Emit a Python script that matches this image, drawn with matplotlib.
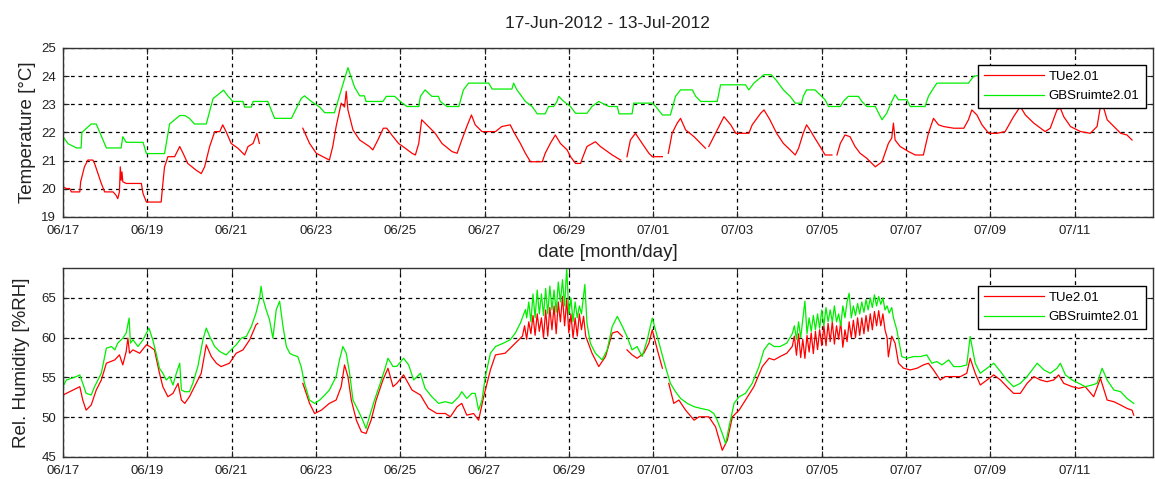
import numpy as np
import matplotlib
matplotlib.use('Agg')
import matplotlib.pyplot as plt
import matplotlib.dates as mdates
from datetime import datetime

nan = np.nan
start = datetime(2012, 6, 17)

# times in days after 17-Jun-2012 00:00, nan = no data
temp_t_tue = [0, 0.08, 0.16, 0.20, 0.40, 0.42, 0.51, 0.59, 0.71, 0.75, 0.83, 0.91, 0.99, 1.19, 1.26, 1.30,
              1.34, 1.36, 1.38, 1.40, 1.42, 1.50, 1.86, 1.90, 1.98, 2.33, 2.37, 2.41, 2.49, 2.65, 2.77, 2.85,
              2.96, 3.16, 3.28, 3.36, 3.48, 3.60, 3.72, 3.79, 3.87, 3.99, 4.15, 4.31, 4.39, 4.51, 4.60, 4.66,
              4.67, 5.69, 5.85, 6.01, 6.32, 6.40, 6.48, 6.60, 6.68, 6.72, 6.76, 6.88, 7.04, 7.27, 7.35, 7.47,
              7.60, 7.68, 7.80, 7.96, 8.12, 8.28, 8.36, 8.44, 8.51, 8.63, 8.83, 8.99, 9.23, 9.35, 9.46, 9.58,
              9.69, 9.78, 9.94, 10.26, 10.41, 10.61, 10.69, 10.85, 10.97, 11.09, 11.37, 11.44, 11.56, 11.68,
              11.80, 11.96, 12.04, 12.16, 12.28, 12.32, 12.43, 12.63, 12.75, 13.03, 13.23, 13.30, 13.38, 13.46,
              13.58, 13.74, 13.90, 13.98, 14.22, 14.30, 14.36, 14.45, 14.57, 14.65, 14.77, 14.97, 15.13, 15.24,
              15.28, 15.32, 15.48, 15.68, 15.84, 15.96, 16.27, 16.35, 16.55, 16.63, 16.77, 16.93, 17.09, 17.25,
              17.37, 17.45, 17.56, 17.64, 17.72, 17.84, 17.96, 18.08, 18.24, 18.30, 18.36, 18.44, 18.55, 18.67,
              18.79, 18.91, 19.07, 19.27, 19.43, 19.58, 19.66, 19.70, 19.74, 19.86, 20.06, 20.22, 20.41, 20.53,
              20.65, 20.77, 20.89, 21.13, 21.37, 21.48, 21.56, 21.68, 21.80, 21.96, 22.16, 22.35, 22.55, 22.71,
              22.83, 23.03, 23.30, 23.42, 23.58, 23.66, 23.74, 23.90, 24.14, 24.37, 24.53, 24.61, 24.69, 24.77,
              24.93, 25.09, 25.24, 25.36]
temp_tue = [20.07, 20.01, 20.01, 19.89, 19.89, 20.25, 20.78, 21.02, 21.02, 20.90, 20.54, 20.19, 19.89, 19.89, 19.77, 19.65,
            19.89, 20.78, 20.30, 20.60, 20.25, 20.19, 20.19, 19.83, 19.53, 19.53, 20.19, 20.78, 21.14, 21.14, 21.50, 21.26,
            20.90, 20.66, 20.54, 20.78, 21.50, 22.03, 22.03, 22.27, 22.03, 21.61, 21.44, 21.20, 21.50, 21.61, 21.97, 21.61,
            nan, 22.15, 21.61, 21.26, 21.02, 21.50, 22.21, 23.04, 22.90, 23.46, 22.80, 22.09, 21.73, 21.50, 21.38, 21.73,
            22.15, 22.15, 21.91, 21.61, 21.44, 21.26, 21.20, 21.61, 22.45, 22.27, 21.97, 21.61, 21.32, 21.26, 21.73, 22.21,
            22.62, 22.27, 22.03, 22.03, 22.21, 22.27, 22.03, 21.61, 21.26, 20.96, 20.96, 21.26, 21.61, 21.91,
            21.61, 21.38, 21.14, 20.90, 20.90, 21.08, 21.50, 21.67, 21.50, 21.20, 21.02, nan, 21.14, 21.73,
            21.97, 21.61, 21.26, 21.14, 21.14, nan, 21.26, 21.97, 22.33, 22.50, 22.09, 21.85, 21.61, 21.44,
            nan, 21.50, 21.97, 22.56, 22.27, 21.97, 21.97, 22.27, 22.68, 22.80, 22.45, 21.97, 21.61, 21.38,
            21.20, 21.44, 21.97, 22.27, 22.09, 21.79, 21.50, 21.20, 21.20, nan, 21.20, 21.61, 21.91, 21.85,
            21.50, 21.26, 21.08, 20.78, 20.96, 21.61, 21.80, 22.33, 21.73, 21.50, 21.32, 21.20, 21.20, 21.97,
            22.50, 22.27, 22.21, 22.15, 22.15, 22.45, 22.80, 22.62, 22.27, 21.97, 21.97, 22.03, 22.56, 22.92,
            22.62, 22.33, 22.03, 22.15, 22.80, 22.86, 22.56, 22.21, 22.03, 21.97, 22.21, 22.92, 22.86, 22.45,
            22.21, 21.97, 21.91, 21.73]

temp_t_gbs = [0, 0.12, 0.32, 0.43, 0.45, 0.67, 0.79, 1.03, 1.38, 1.42, 1.50, 1.90, 1.98, 2.41, 2.53, 2.77, 2.89,
              3.00, 3.12, 3.40, 3.56, 3.81, 3.91, 4.03, 4.27, 4.31, 4.47, 4.51, 4.86, 5.02, 5.42, 5.65, 5.73, 5.89,
              6.09, 6.21, 6.44, 6.76, 6.92, 7.04, 7.15, 7.19, 7.59, 7.67, 7.87, 8.00, 8.16, 8.44, 8.48, 8.59, 8.75,
              8.91, 8.95, 9.11, 9.39, 9.50, 9.62, 10.10, 10.18, 10.65, 10.69, 10.77, 10.97, 11.13, 11.25, 11.44,
              11.52, 11.64, 11.72, 11.76, 11.88, 12.04, 12.16, 12.43, 12.55, 12.71, 12.95, 13.15, 13.19, 13.50,
              13.54, 13.98, 14.06, 14.22, 14.41, 14.53, 14.65, 14.93, 15.01, 15.13, 15.52, 15.60, 16.19, 16.27,
              16.39, 16.63, 16.80, 16.91, 17.09, 17.25, 17.37, 17.52, 17.56, 17.64, 17.84, 18.00, 18.08, 18.16,
              18.44, 18.51, 18.63, 18.87, 18.95, 19.07, 19.27, 19.35, 19.43, 19.54, 19.66, 19.74, 19.82, 20.02,
              20.10, 20.45, 20.53, 20.65, 20.73, 21.48, 21.60, 22.0, 22.5, 23.0, 23.5, 24.0, 24.5, 25.36]
temp_gbs = [21.86, 21.60, 21.45, 21.45, 22.00, 22.30, 22.30, 21.45, 21.45, 21.85, 21.65, 21.65, 21.25, 21.25, 22.30, 22.60, 22.60,
            22.50, 22.30, 22.30, 23.20, 23.50, 23.30, 23.10, 23.10, 22.90, 22.90, 23.10, 23.10, 22.50, 22.50, 23.20, 23.30, 23.10,
            22.90, 22.70, 22.70, 24.30, 23.60, 23.30, 23.30, 23.10, 23.10, 23.28, 23.28, 23.10, 22.92, 22.92, 23.28, 23.51, 23.28,
            23.28, 23.10, 22.92, 22.92, 23.51, 23.75, 23.75, 23.54, 23.54, 23.75, 23.51, 23.10, 22.92, 22.66, 22.66,
            22.92, 22.92, 23.10, 23.28, 23.10, 22.92, 22.68, 22.68, 22.92, 23.10, 22.92, 22.92, 22.66, 22.66,
            23.04, 23.04, 22.92, 22.62, 22.62, 23.28, 23.51, 23.51, 23.28, 23.10, 23.10, 23.69, 23.69, 23.51,
            23.75, 24.05, 24.05, 23.87, 23.51, 23.28, 23.04, 23.04, 23.28, 23.51, 23.51, 23.28, 23.16, 22.92,
            22.92, 23.10, 23.28, 23.28, 23.10, 22.92, 22.92, 22.68, 22.45, 22.68, 23.10, 23.34, 23.16, 23.16,
            22.92, 22.92, 23.28, 23.57, 23.75, 23.75, 23.99, 24.10, 24.20, 24.00, 24.20, 24.00, 24.30, 24.10]

rh_t_tue = [0, 0.16, 0.40, 0.47, 0.55, 0.67, 0.79, 0.91, 1.03, 1.23, 1.34, 1.42, 1.50, 1.54, 1.58, 1.66, 1.82, 1.98,
            2.06, 2.17, 2.29, 2.37, 2.49, 2.61, 2.73, 2.81, 2.89, 3.00, 3.16, 3.28, 3.40, 3.52, 3.64, 3.75, 3.95,
            4.11, 4.27, 4.43, 4.58, 4.62, 4.64, 5.69, 5.85, 5.97, 6.13, 6.32, 6.48, 6.60, 6.68, 6.76, 6.84, 6.96,
            7.08, 7.19, 7.31, 7.43, 7.59, 7.71, 7.83, 7.92, 8.08, 8.28, 8.48, 8.67, 8.87, 9.07, 9.19, 9.35, 9.46,
            9.58, 9.74, 9.86, 9.98, 10.14, 10.26, 10.49, 10.73, 10.90, 10.95, 11.00, 11.05, 11.10, 11.15, 11.20,
            11.25, 11.30, 11.35, 11.40, 11.45, 11.50, 11.55, 11.60, 11.65, 11.70, 11.75, 11.80, 11.85, 11.90,
            11.95, 12.00, 12.05, 12.10, 12.15, 12.20, 12.25, 12.30, 12.35, 12.40, 12.55, 12.71, 12.87, 13.03,
            13.15, 13.27, 13.32, 13.38, 13.50, 13.62, 13.78, 13.90, 13.98, 14.10, 14.22, 14.30, 14.37, 14.49,
            14.61, 14.77, 14.97, 15.09, 15.32, 15.48, 15.64, 15.76, 15.88, 16.04, 16.19, 16.39, 16.59, 16.75,
            16.87, 17.01, 17.17, 17.30, 17.35, 17.40, 17.45, 17.50, 17.55, 17.60, 17.65, 17.70, 17.75, 17.80,
            17.85, 17.90, 17.95, 18.00, 18.05, 18.10, 18.15, 18.20, 18.25, 18.30, 18.35, 18.40, 18.45, 18.50,
            18.55, 18.60, 18.65, 18.70, 18.75, 18.80, 18.85, 18.90, 18.95, 19.00, 19.05, 19.10, 19.15, 19.20,
            19.25, 19.30, 19.35, 19.40, 19.45, 19.50, 19.55, 19.58, 19.66, 19.74, 19.82, 19.94, 20.10, 20.26,
            20.41, 20.53, 20.65, 20.81, 20.93, 21.09, 21.29, 21.44, 21.52, 21.64, 21.76, 21.92, 22.08, 22.24,
            22.39, 22.55, 22.71, 22.87, 23.03, 23.19, 23.34, 23.50, 23.62, 23.74, 23.94, 24.10, 24.25, 24.45,
            24.61, 24.77, 24.93, 25.09, 25.24, 25.36, 25.40]
rh_tue = [52.79, 53.21, 53.84, 52.16, 50.89, 51.53, 53.42, 54.68, 56.79, 57.21, 57.84, 56.58, 58.26, 59.95, 58.05, 58.47, 58.05, 59.11,
          58.89, 58.47, 55.53, 53.84, 52.58, 53.00, 54.26, 52.16, 51.74, 52.58, 54.26, 55.53, 59.11, 57.63, 56.79, 56.37, 56.79,
          58.05, 58.47, 59.74, 61.63, 61.80, nan, 54.26, 51.74, 50.47, 50.89, 51.74, 52.16, 53.84, 56.58, 55.11, 52.16, 49.63,
          48.16, 47.95, 49.63, 52.16, 54.68, 56.16, 53.84, 54.26, 55.32, 53.42, 52.79, 51.11, 50.47, 50.47, 50.05, 51.32, 51.74,
          50.26, 50.47, 49.63, 52.58, 55.95, 57.84, 58.05, 59.32, 60.20, 61.50, 59.80, 62.00, 60.50, 62.80, 60.30,
          63.00, 60.80, 62.50, 60.00, 63.50, 60.20, 63.80, 61.00, 64.00, 60.50, 64.50, 62.00, 65.20, 61.50,
          64.80, 60.60, 63.00, 60.00, 62.50, 60.20, 63.00, 61.00, 62.70, 60.20, 58.05, 56.37, 57.63, 60.58,
          60.79, 60.16, nan, 58.47, 57.84, 57.42, 58.05, 59.32, 61.00, 58.47, 56.16, nan, 54.26, 51.74,
          52.16, 50.89, 49.63, 50.05, 50.05, 48.79, 45.84, 47.11, 50.05, 50.89, 52.16, 53.84, 56.37, 57.42,
          57.21, 57.63, 58.05, 58.90, 60.20, 57.80, 60.50, 57.50, 59.80, 57.40, 60.30, 58.20, 60.60, 58.00,
          60.80, 58.50, 61.00, 59.00, 61.50, 59.00, 61.80, 59.50, 62.00, 59.20, 61.50, 59.80, 62.00, 58.80,
          61.00, 59.50, 62.00, 60.00, 62.20, 60.00, 62.50, 60.30, 62.50, 60.50, 62.80, 60.80, 63.00, 61.00,
          63.30, 61.50, 63.40, 61.50, 63.00, 61.00, 60.00, 57.60, 60.20, 59.30, 56.80, 56.16, 55.95, 56.16,
          56.58, 56.79, 55.95, 54.68, 55.11, 55.11, 55.11, 55.53, 57.42, 55.53, 54.05, 54.68, 55.32, 54.68,
          53.84, 53.00, 53.00, 54.26, 55.11, 54.68, 54.47, 54.68, 55.32, 54.26, 53.84, 53.63, 53.84, 52.58,
          54.89, 52.16, 51.95, 51.53, 51.11, 50.89, 50.26]

rh_t_gbs = [0, 0.08, 0.32, 0.40, 0.47, 0.55, 0.67, 0.75, 0.83, 0.91, 1.03, 1.15, 1.23, 1.30, 1.42, 1.50, 1.57, 1.60,
            1.66, 1.78, 1.90, 1.98, 2.04, 2.13, 2.21, 2.29, 2.37, 2.45, 2.53, 2.61, 2.69, 2.77, 2.81, 2.89, 3.00,
            3.08, 3.20, 3.32, 3.40, 3.48, 3.60, 3.72, 3.87, 3.99, 4.11, 4.23, 4.35, 4.47, 4.58, 4.66, 4.70, 4.74,
            4.82, 4.90, 4.98, 5.06, 5.14, 5.22, 5.30, 5.38, 5.45, 5.57, 5.65, 5.73, 5.85, 5.97, 6.09, 6.21, 6.32,
            6.48, 6.56, 6.64, 6.72, 6.80, 6.88, 7.00, 7.11, 7.19, 7.27, 7.39, 7.51, 7.63, 7.71, 7.83, 7.92, 8.08,
            8.20, 8.32, 8.48, 8.59, 8.75, 8.91, 9.07, 9.23, 9.39, 9.46, 9.58, 9.70, 9.78, 9.86, 9.94, 10.02,
            10.14, 10.26, 10.45, 10.61, 10.73, 10.85, 10.97, 11.00, 11.05, 11.10, 11.15, 11.20, 11.25, 11.30,
            11.35, 11.40, 11.45, 11.50, 11.55, 11.60, 11.65, 11.70, 11.75, 11.80, 11.85, 11.90, 11.95, 12.00,
            12.05, 12.10, 12.15, 12.20, 12.25, 12.30, 12.38, 12.43, 12.51, 12.63, 12.79, 12.91, 13.03, 13.15,
            13.27, 13.38, 13.50, 13.62, 13.74, 13.86, 13.98, 14.14, 14.29, 14.41, 14.53, 14.65, 14.81, 14.97,
            15.13, 15.32, 15.44, 15.52, 15.64, 15.72, 15.80, 15.92, 16.04, 16.19, 16.35, 16.51, 16.63, 16.75,
            16.87, 17.01, 17.17, 17.30, 17.35, 17.40, 17.45, 17.50, 17.55, 17.60, 17.65, 17.70, 17.75, 17.80,
            17.85, 17.90, 17.95, 18.00, 18.05, 18.10, 18.15, 18.20, 18.25, 18.30, 18.35, 18.40, 18.45, 18.50,
            18.55, 18.60, 18.65, 18.70, 18.75, 18.80, 18.85, 18.90, 18.95, 19.00, 19.05, 19.10, 19.15, 19.20,
            19.25, 19.30, 19.35, 19.40, 19.45, 19.50, 19.55, 19.60, 19.66, 19.70, 19.78, 19.90, 20.02, 20.18,
            20.34, 20.49, 20.61, 20.73, 20.85, 21.01, 21.13, 21.29, 21.44, 21.52, 21.64, 21.76, 21.92, 22.08,
            22.24, 22.39, 22.55, 22.71, 22.87, 23.11, 23.27, 23.42, 23.58, 23.66, 23.78, 23.94, 24.10, 24.25,
            24.41, 24.53, 24.65, 24.77, 24.93, 25.09, 25.24, 25.40]
rh_gbs = [53.84, 54.68, 55.11, 55.32, 54.26, 53.00, 52.79, 53.84, 54.68, 55.53, 58.68, 58.89, 58.47, 59.32, 59.95, 60.58, 62.47, 59.32,
          59.74, 58.89, 59.74, 60.58, 61.21, 59.74, 58.05, 56.16, 55.53, 54.68, 55.11, 54.05, 55.53, 56.79, 53.42, 53.21, 53.21,
          54.26, 56.37, 59.74, 61.21, 60.16, 58.89, 58.26, 57.84, 58.47, 59.11, 59.95, 60.16, 61.42, 63.11, 64.79, 66.47, 65.00,
          63.53, 62.26, 59.95, 63.53, 64.58, 61.42, 58.89, 58.05, 57.84, 57.63, 56.37, 54.26, 52.16, 51.74, 52.16, 52.79, 53.42,
          55.11, 57.21, 58.89, 58.05, 55.53, 52.16, 50.89, 49.63, 48.58, 50.05, 52.16, 54.00, 55.95, 57.42, 56.37, 56.40, 57.42,
          56.58, 54.68, 55.53, 53.63, 52.58, 51.74, 51.95, 51.74, 52.58, 53.21, 52.37, 53.00, 53.00, 50.89, 52.16, 55.11,
          58.05, 58.89, 59.32, 59.74, 60.58, 61.84, 63.53, 62.50, 64.50, 62.00, 65.50, 62.50, 66.00, 63.00,
          65.50, 62.80, 66.20, 63.00, 66.50, 63.50, 66.00, 63.20, 67.00, 64.50, 67.30, 64.00, 68.80, 63.00,
          65.00, 62.00, 64.50, 62.50, 64.00, 63.00, 66.70, 61.84, 59.32, 58.05, 57.21, 58.47, 61.42, 62.68,
          61.42, 60.16, 58.47, 58.89, 57.63, 59.74, 62.47, 59.32, 56.37, 54.26, 53.21, 52.37, 51.74, 51.32,
          51.11, 50.89, 50.47, 49.63, 47.95, 46.68, 48.79, 51.74, 52.58, 53.00, 54.26, 56.37, 58.47, 59.32,
          58.89, 58.89, 59.32, 60.50, 61.50, 59.80, 62.00, 60.00, 62.30, 64.60, 60.50, 62.50, 60.80, 62.80,
          61.00, 63.00, 61.20, 63.50, 61.50, 63.80, 62.00, 63.50, 62.00, 64.00, 62.00, 63.00, 61.50, 64.00,
          62.50, 64.50, 65.60, 62.50, 64.00, 62.80, 64.30, 63.00, 64.50, 63.20, 64.80, 63.50, 65.00, 63.80,
          65.40, 64.00, 65.20, 64.20, 65.00, 63.50, 64.00, 63.10, 63.80, 62.50, 61.00, 57.60, 57.42, 57.63,
          57.63, 57.84, 56.79, 57.00, 56.58, 57.21, 56.37, 56.37, 56.58, 60.16, 56.79, 55.53, 56.16, 56.79,
          55.74, 54.68, 53.84, 54.26, 55.11, 56.79, 55.95, 55.53, 56.16, 56.79, 55.32, 54.68, 54.26, 53.84,
          54.05, 54.26, 56.16, 54.68, 53.42, 53.21, 52.37, 51.74]

series_names = ['TUe2.01', 'GBSruimte2.01']
tick_days = np.arange(0, 26, 2)
x_end = 25.85

plt.rcParams['font.family'] = ['Liberation Sans', 'DejaVu Sans']

base = mdates.date2num(start)
def tt(days):
    return base + np.array(days, dtype=float)

fig = plt.figure(figsize=(11.55, 4.79), dpi=100)
ax1 = fig.add_axes([0.0545, 0.547, 0.9435, 0.353])
ax2 = fig.add_axes([0.0545, 0.046, 0.9435, 0.395])

ax1.plot(tt(temp_t_tue), temp_tue, color='#ff0000', lw=0.9, label=series_names[0])
ax1.plot(tt(temp_t_gbs), temp_gbs, color='#00ee00', lw=0.9, label=series_names[1])
ax2.plot(tt(rh_t_tue), rh_tue, color='#ff0000', lw=0.9, label=series_names[0])
ax2.plot(tt(rh_t_gbs), rh_gbs, color='#00ee00', lw=0.9, label=series_names[1])

ax1.set_ylim(19, 25)
ax1.set_yticks(np.arange(19, 26, 1))
ax2.set_ylim(45, 68.8)
ax2.set_yticks(np.arange(45, 66, 5))

for ax in (ax1, ax2):
    ax.set_xlim(base, base + x_end)
    ax.set_xticks(tt(tick_days))
    ax.xaxis.set_major_formatter(mdates.DateFormatter('%m/%d'))
    ax.grid(True, color='black', linestyle=(0, (3, 3)), linewidth=0.9)
    ax.tick_params(direction='in', length=4, labelsize=9.5, colors='#222222', top=True, right=True)
    ax.tick_params(axis='x', pad=6)
    ax.tick_params(axis='y', pad=5)
    for s in ax.spines.values():
        s.set_color('#333333')
        s.set_linewidth(1.0)
    leg = ax.legend(loc='upper right', bbox_to_anchor=(0.9995, 0.94), fontsize=9.5, fancybox=False,
                    edgecolor='black', framealpha=1, borderpad=0.45, handlelength=4.5, labelspacing=0.55,
                    handletextpad=0.4)
    leg.get_frame().set_linewidth(1.0)

ax1.set_ylabel('Temperature [\u00b0C]', fontsize=13.5, color='#222222', labelpad=4)
ax2.set_ylabel('Rel. Humidity [%RH]', fontsize=13.5, color='#222222', labelpad=8)
ax1.set_xlabel('date [month/day]', fontsize=13.5, color='#222222', labelpad=5)
ax1.set_title('17-Jun-2012 - 13-Jul-2012', fontsize=12.5, color='#222222', pad=14)

fig.savefig('out.png', dpi=100)
